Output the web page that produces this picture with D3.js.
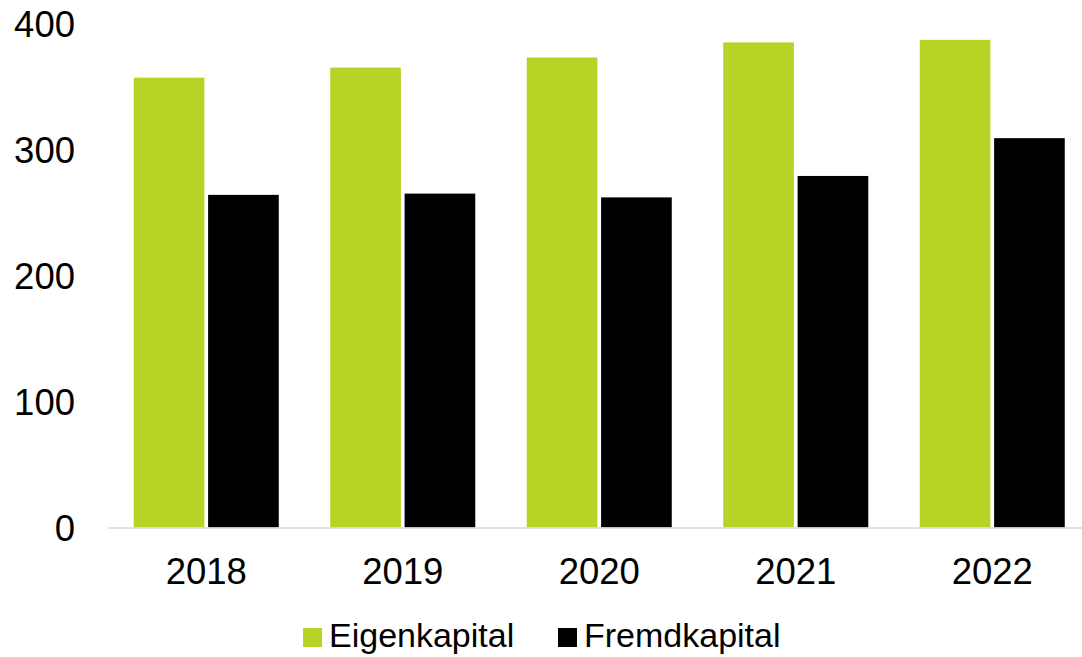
<!DOCTYPE html>
<html>
<head>
<meta charset="utf-8">
<script src="https://cdn.jsdelivr.net/npm/d3@7"></script>
<style>
  body { margin: 0; background: #fff; }
  text { font-family: "Liberation Sans", Arial, sans-serif; fill: #000; }
</style>
</head>
<body>
<svg id="chart" width="1082" height="657"></svg>
<script>
// data
var years = ["2018", "2019", "2020", "2021", "2022"];
var seriesNames = ["Eigenkapital", "Fremdkapital"];
var eigenkapital = [357, 365, 373, 385, 387];
var fremdkapital = [264, 265, 262, 279, 309];
var yTicks = [0, 100, 200, 300, 400];
var colors = ["#b7d426", "#000000"];

var svg = d3.select("#chart")
  , x0 = 108
  , step = 196.5
  , yZero = 527.5
  , yTop = 23.5
  , fontSize = 36.5
  , legendFontSize = 34;

var values = [eigenkapital, fremdkapital];

var xScale = d3.scaleBand()
  .domain(years)
  .range([x0, x0 + step * years.length])
  .paddingInner(0.262)
  .paddingOuter(0.131);

var subScale = d3.scaleBand()
  .domain(seriesNames)
  .range([0, xScale.bandwidth()])
  .paddingInner(0.05);

var yScale = d3.scaleLinear()
  .domain([0, 400])
  .range([yZero, yTop]);

var colorScale = d3.scaleOrdinal().domain(seriesNames).range(colors);

// bars
var groups = svg.append("g")
    .selectAll("g")
    .data(years)
  .enter().append("g")
    .attr("transform", d => "translate(" + xScale(d) + ",0)");

groups.selectAll("rect")
    .data((d, i) => seriesNames.map((s, j) => ({ s: s, v: values[j][i] })))
  .enter().append("rect")
    .attr("x", d => subScale(d.s))
    .attr("y", d => yScale(d.v))
    .attr("width", subScale.bandwidth())
    .attr("height", d => yZero - yScale(d.v))
    .attr("fill", d => colorScale(d.s));

// baseline
svg.append("line")
  .attr("x1", x0).attr("x2", x0 + step * years.length)
  .attr("y1", yZero + 0.5).attr("y2", yZero + 0.5)
  .attr("stroke", "#d9d9d9")
  .attr("stroke-width", 1.5);

// y labels
svg.append("g")
    .selectAll("text")
    .data(yTicks)
  .enter().append("text")
    .attr("x", 75)
    .attr("y", d => yScale(d) + 13.5)
    .attr("text-anchor", "end")
    .style("font-size", fontSize + "px")
    .text(d => d);

// x labels
svg.append("g")
    .selectAll("text")
    .data(years)
  .enter().append("text")
    .attr("x", d => xScale(d) + xScale.bandwidth() / 2)
    .attr("y", 584)
    .attr("text-anchor", "middle")
    .style("font-size", fontSize + "px")
    .text(d => d);

// legend
var legendX = [303, 558];
var legend = svg.append("g")
    .selectAll("g")
    .data(seriesNames)
  .enter().append("g")
    .attr("transform", (d, i) => "translate(" + legendX[i] + ",0)");

legend.append("rect")
    .attr("x", 0).attr("y", 628)
    .attr("width", 19).attr("height", 19)
    .attr("fill", d => colorScale(d));

legend.append("text")
    .attr("x", 26)
    .attr("y", 647)
    .style("font-size", legendFontSize + "px")
    .text(d => d);
</script>
</body>
</html>
